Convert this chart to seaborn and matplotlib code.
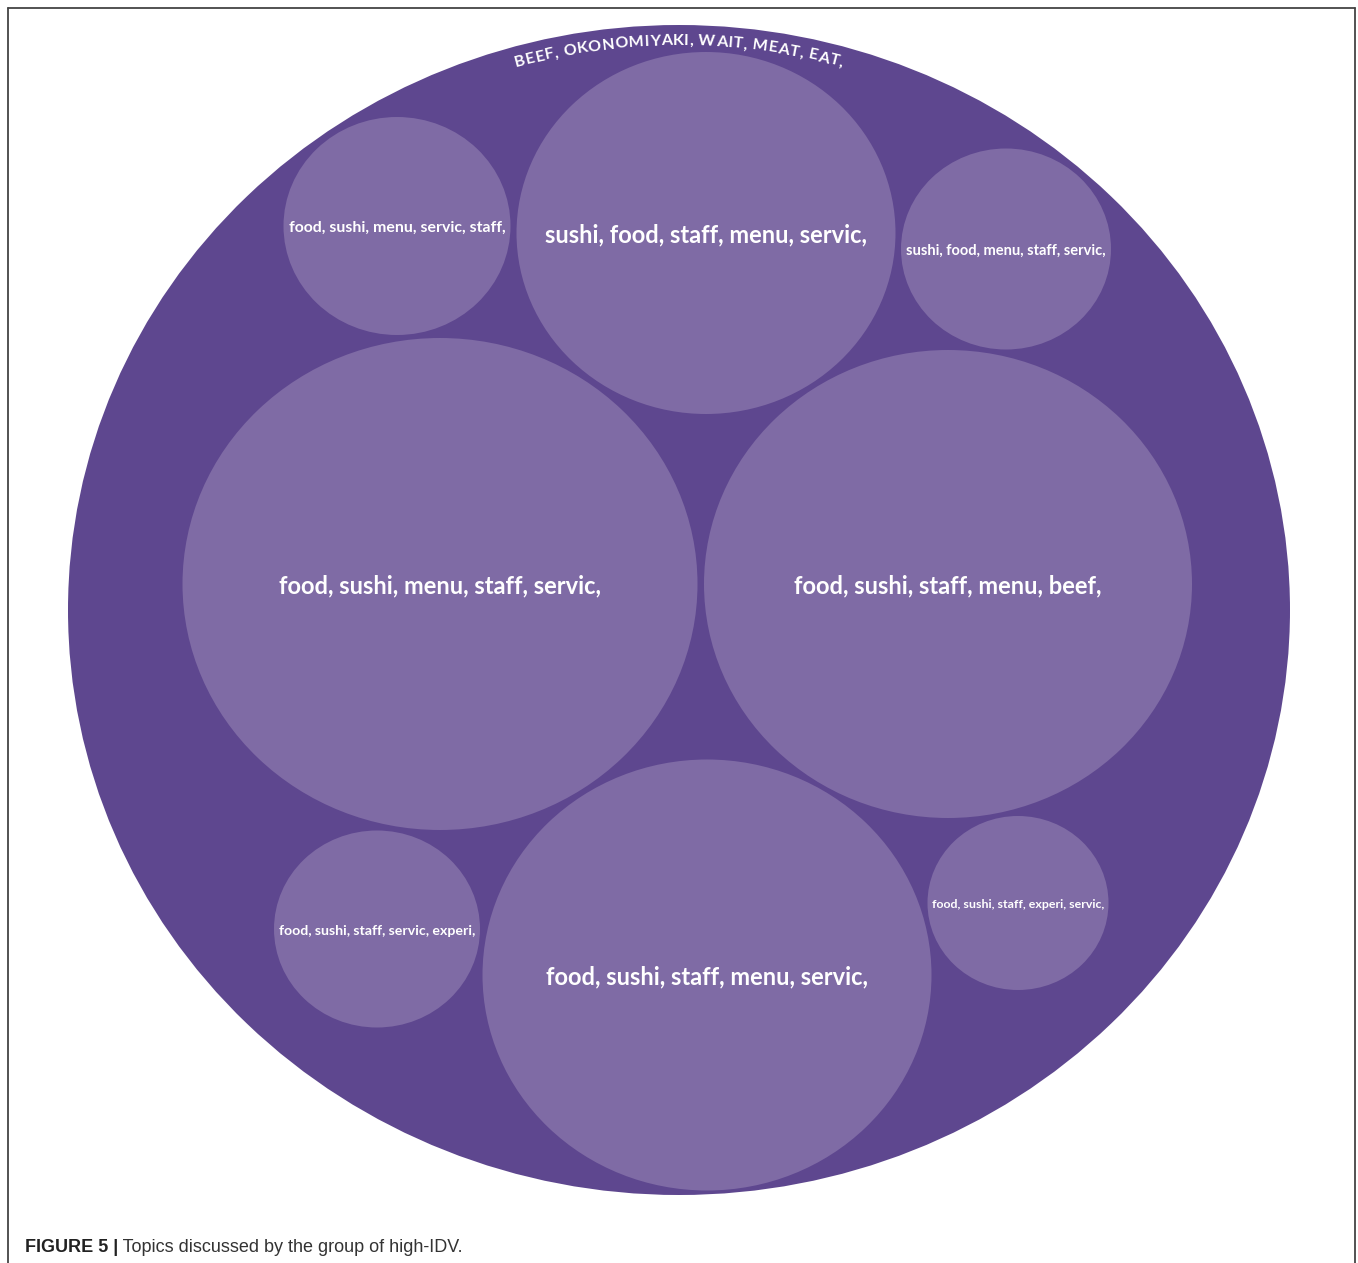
import numpy as np
import matplotlib
matplotlib.use("Agg")
import matplotlib.pyplot as plt
import seaborn as sns
from matplotlib.patches import Ellipse
from matplotlib.lines import Line2D
from matplotlib.font_manager import FontProperties
from matplotlib.textpath import TextToPath

# outer topic (centre and diameters in image pixels)
outer_label = "BEEF, OKONOMIYAKI, WAIT, MEAT, EAT,"
outer_x, outer_y = 679, 610
outer_w, outer_h = 1222, 1170

# inner topics
topic_labels = [
    "food, sushi, menu, servic, staff,",
    "sushi, food, staff, menu, servic,",
    "sushi, food, menu, staff, servic,",
    "food, sushi, menu, staff, servic,",
    "food, sushi, staff, menu, beef,",
    "food, sushi, staff, servic, experi,",
    "food, sushi, staff, menu, servic,",
    "food, sushi, staff, experi, servic,",
]
topic_x = [397, 706, 1006, 440, 948, 377, 707, 1018]
topic_y = [226, 233, 249, 584, 584, 929, 975, 903]
topic_w = [227, 379, 210, 515, 488, 206, 449, 181]
topic_h = [218, 362, 201, 492, 468, 197, 431, 174]

caption_bold = "FIGURE 5 |"
caption_text = "Topics discussed by the group of high-IDV."

outer_color = "#5e478f"
inner_color = "#7f6ba5"
W, H, DPI = 1358, 1263, 100

sns.set_theme(style="white")
plt.rcParams['font.family'] = ['Lato', 'DejaVu Sans']

fig = plt.figure(figsize=(W / DPI, H / DPI), dpi=DPI)
ax = fig.add_axes([0, 0, 1, 1])
ax.set_xlim(0, W)
ax.set_ylim(H, 0)
ax.axis('off')

ttp = TextToPath()
label_font = FontProperties(family='Lato', weight='bold', size=1)


def text_px(s, prop):
    w = ttp.get_text_width_height_descent(s, prop, ismath=False)[0]
    return w * DPI / 72


ax.add_patch(Ellipse((outer_x, outer_y), outer_w, outer_h, color=outer_color, lw=0))

for lab, x, y, w, h in zip(topic_labels, topic_x, topic_y, topic_w, topic_h):
    ax.add_patch(Ellipse((x, y), w, h, color=inner_color, lw=0))
    # shrink the label to fit the bubble, with an upper limit
    fs = min(17, 0.95 * w / text_px(lab, label_font))
    ax.text(x, y + 2, lab, color='white', fontsize=fs, fontweight='bold',
            ha='center', va='center')

# outer label curved along the top of the big circle
curve_fs = 11.5
curve_font = FontProperties(family='Lato', weight='bold', size=curve_fs)
a = outer_w / 2 - 20
b = outer_h / 2 - 20
widths = np.array([text_px(ch, curve_font) for ch in outer_label])
arc_len = 330
gap = (arc_len - widths.sum()) / (len(widths) - 1)
starts = np.concatenate([[0], np.cumsum(widths[:-1] + gap)])
mids = starts + widths / 2 - arc_len / 2
for ch, s in zip(outer_label, mids):
    t = s / a
    px = outer_x + a * np.sin(t)
    py = outer_y - b * np.cos(t)
    rot = -np.degrees(np.arctan2(b * np.sin(t), a * np.cos(t)))
    ax.text(px, py, ch, color='white', fontsize=curve_fs, fontweight='bold',
            ha='center', va='baseline', rotation=rot, rotation_mode='anchor')

# frame: left, top and right edges
for xs, ys in [([8, 8], [0, H - 8]), ([8, 1355], [H - 8, H - 8]), ([1355, 1355], [0, H - 8])]:
    fig.add_artist(Line2D(np.array(xs) / W, np.array(ys) / H, color='#444444', lw=1.3))

cap_font = ['Liberation Sans', 'DejaVu Sans']
cap = fig.text(25 / W, 1 - 1252 / H, caption_bold, fontsize=13, fontweight='bold',
               family=cap_font, color='#222222', va='baseline')
ax.annotate(" " + caption_text, xy=(1, 0), xycoords=cap, fontsize=13,
            family=cap_font, color='#333333',
            va='bottom', ha='left', annotation_clip=False)

fig.savefig('out.png', dpi=DPI)
